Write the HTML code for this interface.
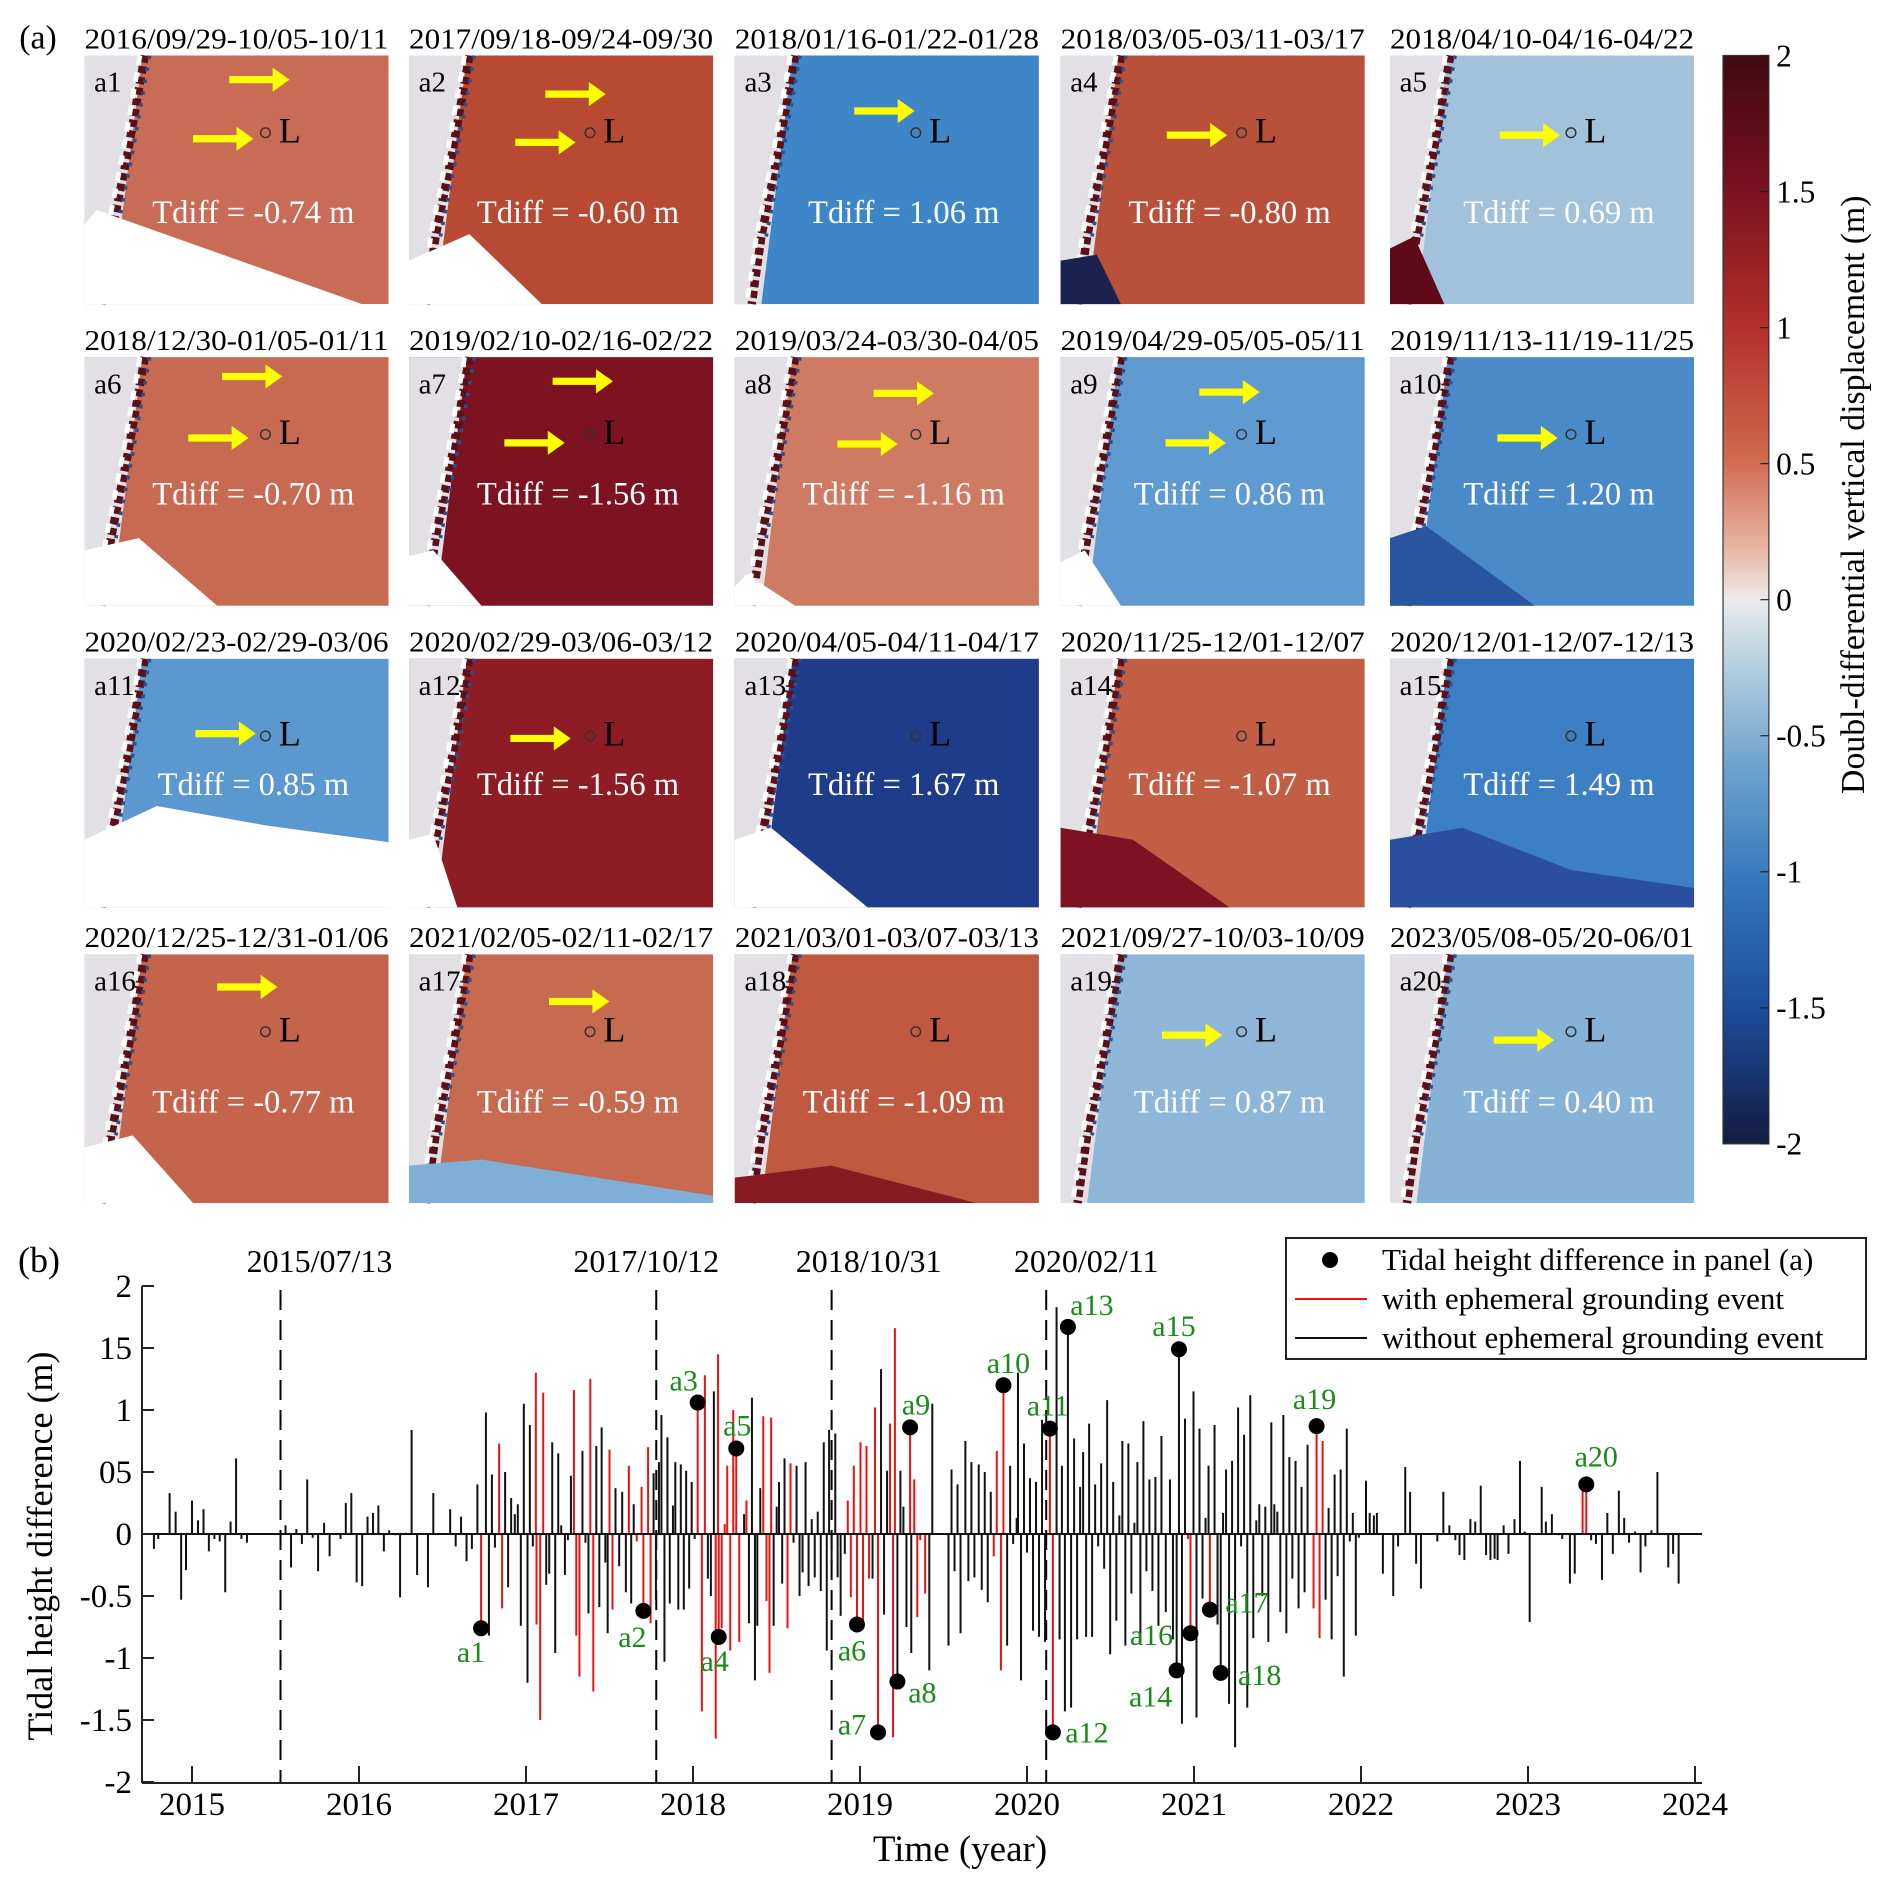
<!DOCTYPE html>
<html><head><meta charset="utf-8">
<style>
html,body{margin:0;padding:0;background:#fff;}
svg, svg text{font-family:"Liberation Serif","Times New Roman",serif !important;}
</style></head>
<body>
<svg id="fig" width="1892" height="1890" viewBox="0 0 1892 1890" xmlns="http://www.w3.org/2000/svg" font-family="Liberation Serif, serif">
<defs>
<linearGradient id="cbar" x1="0" y1="0" x2="0" y2="1">
<stop offset="0" stop-color="#3f0a12"/><stop offset="0.12" stop-color="#7a1020"/><stop offset="0.25" stop-color="#b3302a"/>
<stop offset="0.37" stop-color="#d0694e"/><stop offset="0.45" stop-color="#e7b2a0"/><stop offset="0.5" stop-color="#ecebea"/>
<stop offset="0.56" stop-color="#b5cfe0"/><stop offset="0.65" stop-color="#6fa4cf"/><stop offset="0.76" stop-color="#3477bd"/>
<stop offset="0.88" stop-color="#1c4b9a"/><stop offset="1" stop-color="#141c40"/>
</linearGradient>
</defs>
<g id="panelA" transform="scale(1.2066)"></g>
<g id="panelB"></g>
</svg>
<script>
const NS='http://www.w3.org/2000/svg';
function mk(tag,attrs,parent,txt){const e=document.createElementNS(NS,tag);for(const k in attrs)e.setAttribute(k,attrs[k]);if(tag==='text')e.setAttribute('font-family','Liberation Serif, serif');if(txt!==undefined)e.textContent=txt;parent.appendChild(e);return e;}

/* ---------- Panel (a) ---------- */
const A=document.getElementById('panelA');
const colX=[70,339,609,879,1152], rowY=[46,296,546,791], PW=252, PH=206;
const titles=["2016/09/29-10/05-10/11","2017/09/18-09/24-09/30","2018/01/16-01/22-01/28","2018/03/05-03/11-03/17","2018/04/10-04/16-04/22",
"2018/12/30-01/05-01/11","2019/02/10-02/16-02/22","2019/03/24-03/30-04/05","2019/04/29-05/05-05/11","2019/11/13-11/19-11/25",
"2020/02/23-02/29-03/06","2020/02/29-03/06-03/12","2020/04/05-04/11-04/17","2020/11/25-12/01-12/07","2020/12/01-12/07-12/13",
"2020/12/25-12/31-01/06","2021/02/05-02/11-02/17","2021/03/01-03/07-03/13","2021/09/27-10/03-10/09","2023/05/08-05/20-06/01"];
const tdiffs=["-0.74","-0.60","1.06","-0.80","0.69","-0.70","-1.56","-1.16","0.86","1.20","0.85","-1.56","1.67","-1.07","1.49","-0.77","-0.59","-1.09","0.87","0.40"];
const bases=["#c96c55","#b84a33","#3f86c8","#b9503a","#a2c2dc","#c86a52","#7d1220","#cf7a62","#5f9bd0","#4a8ac8","#5a98cf","#8e1c24","#1f3c8a","#c25e44","#3c7fc4","#c4644a","#c66a50","#c0593f","#8db6d8","#86b2d8"];
const patches=[
 [[0,140],[10,128],[230,206],[0,206],'#fff'],
 [[0,170],[50,148],[110,206],[0,206],'#fff'],
 null,
 [[0,170],[30,165],[50,206],[0,206],'#1a2350'],
 [[0,160],[20,150],[45,206],[0,206],'#5e0a18'],
 [[0,160],[45,150],[110,206],[0,206],'#fff'],
 [[0,165],[20,160],[60,206],[0,206],'#fff'],
 [[0,190],[10,180],[50,206],[0,206],'#fff'],
 [[0,170],[20,160],[50,206],[0,206],'#fff'],
 [[0,150],[30,140],[120,206],[0,206],'#2a55a0'],
 [[0,150],[60,122],[150,138],[252,152],[252,206],[0,206],'#fff'],
 [[0,150],[20,145],[40,206],[0,206],'#fff'],
 [[0,150],[30,140],[110,206],[0,206],'#fff'],
 [[0,140],[60,150],[140,206],[0,206],'#7e1222'],
 [[0,150],[60,140],[150,175],[252,190],[252,206],[0,206],'#2b4fa0'],
 [[0,160],[40,150],[90,206],[0,206],'#fff'],
 [[0,175],[60,170],[252,200],[252,206],[0,206],'#7faed6'],
 [[0,185],[80,175],[200,206],[0,206],'#8a1a22'],
 null,null];
const arrows=[[[120,20],[90,69]],[[113,32],[88,72]],[[99,46]],[[88,66]],[[91,66]],[[114,16],[86,67]],[[119,20],[79,71]],[[115,30],[85,72]],[[115,29],[87,71]],[[89,67]],
[[92,62]],[[84,66]],[],[],[],[[110,27]],[[116,39]],[],[[84,67]],[[86,71]]];
const tdY=[130,130,130,130,130,113,113,113,113,113,104,104,104,104,104,122,122,122,122,122];
mk('text',{x:16,y:40,'font-size':28,},A,'(a)');
for(let i=0;i<20;i++){
  const x0=colX[i%5], y0=rowY[Math.floor(i/5)];
  const g=mk('g',{transform:`translate(${x0},${y0})`},A);
  
  
  const t=mk('text',{x:0,y:-6,'font-size':24,textLength:PW,lengthAdjust:'spacingAndGlyphs'},g,titles[i]);
  
  
  mk('rect',{x:0,y:0,width:PW,height:PH,fill:bases[i]},g);
  mk('polygon',{points:'0,0 48,0 22,206 0,206',fill:'#e2e0e4'},g);
  mk('polyline',{points:'50,0 36,80 22,150 14,206',fill:'none',stroke:'#5a1018','stroke-width':7,'stroke-dasharray':'6 3'},g);
  mk('polyline',{points:'46,0 32,80 18,150 10,206',fill:'none',stroke:'#ffffff','stroke-width':4,'stroke-dasharray':'8 6'},g);
  mk('polyline',{points:'54,0 40,80 26,150',fill:'none',stroke:'#2a4f90','stroke-width':3,'stroke-dasharray':'3 7'},g);
  const p=patches[i];
  if(p){const col=p[p.length-1];mk('polygon',{points:p.slice(0,-1).map(q=>q.join(',')).join(' '),fill:col},g);}
  mk('circle',{cx:150,cy:64,r:4,fill:'none',stroke:'#333','stroke-width':1.2},g);
  const L=mk('text',{x:161,y:72,'font-size':30},g,'L');
  
  
  const lb=mk('text',{x:8,y:30,'font-size':24},g,'a'+(i+1));
  
  
  for(const a of arrows[i]){
    const ar=mk('g',{},g);
    
    
    mk('line',{x1:a[0],y1:a[1],x2:a[0]+40,y2:a[1],stroke:'#ffff00','stroke-width':6},ar);
    mk('polygon',{points:`${a[0]+36},${a[1]-10} ${a[0]+50},${a[1]} ${a[0]+36},${a[1]+10}`,fill:'#ffff00'},ar);
  }
  const td=mk('text',{x:140,y:tdY[i]+9,'font-size':27,fill:'#ffffff','text-anchor':'middle'},g,'Tdiff = '+tdiffs[i]+' m');
  
  
}
/* colorbar */
const cb=mk('g',{},A);


mk('rect',{x:1428,y:46,width:38,height:902,fill:'url(#cbar)',stroke:'#333','stroke-width':1},cb);
const cbTicks=["2","1.5","1","0.5","0","-0.5","-1","-1.5","-2"];
cbTicks.forEach((s,k)=>{const yy=46+k*112.75;
  mk('line',{x1:1459,x2:1466,y1:yy,y2:yy,stroke:'#222','stroke-width':1},cb);
  const tt=mk('text',{x:1472,y:yy+9,'font-size':26},cb,s);
  
  
});
const cbt=mk('text',{x:0,y:0,'font-size':28,'text-anchor':'middle',transform:'translate(1545,410) rotate(-90)'},cb,'Doubl-differential vertical displacement (m)');



/* ---------- Panel (b) data ---------- */
const barDates=[2014.772,2014.798,2014.866,2014.902,2014.935,2014.964,2015.000,2015.036,2015.069,2015.101,2015.134,2015.166,2015.199,2015.231,2015.264,2015.296,2015.329,
2015.560,2015.593,2015.625,2015.658,2015.690,2015.723,2015.755,2015.791,2015.824,2015.889,2015.921,2015.954,2015.986,2016.019,2016.051,2016.084,2016.116,2016.149,2016.181,2016.214,2016.246,2016.279,2016.315,2016.348,2016.413,2016.445,2016.546,2016.579,2016.611,2016.644,2016.676,2016.709,
2016.731,2016.760,2016.778,2016.796,2016.814,2016.839,2016.857,2016.875,2016.893,2016.911,2016.933,2016.951,2016.969,2016.987,2017.009,2017.023,2017.041,2017.059,2017.063,2017.085,2017.103,2017.121,2017.139,2017.157,2017.175,2017.193,2017.211,2017.233,2017.251,2017.269,2017.287,2017.301,2017.320,2017.338,2017.356,2017.374,2017.385,2017.403,2017.421,2017.439,2017.453,2017.475,2017.489,2017.500,2017.518,2017.536,2017.558,2017.576,2017.598,2017.616,2017.630,2017.645,2017.663,2017.692,2017.703,2017.731,2017.746,2017.764,2017.778,2017.796,2017.811,2017.829,2017.847,2017.861,2017.880,2017.894,2017.912,2017.927,2017.945,2017.959,2017.977,2017.992,
2018.010,2018.028,2018.053,2018.071,2018.089,2018.107,2018.125,2018.136,2018.150,2018.154,2018.172,2018.190,2018.205,2018.223,2018.241,2018.259,2018.277,2018.306,2018.320,2018.335,2018.353,2018.371,2018.385,2018.403,2018.421,2018.440,2018.458,2018.468,2018.483,2018.501,2018.515,2018.534,2018.548,2018.566,2018.584,2018.602,2018.620,2018.638,2018.656,2018.674,2018.692,2018.711,2018.729,2018.747,2018.765,2018.783,2018.801,2018.815,2018.830,2018.852,2018.866,2018.884,2018.909,2018.927,2018.945,2018.963,2018.982,
2019.003,2019.018,2019.039,2019.054,2019.075,2019.090,2019.108,2019.126,2019.144,2019.162,2019.180,2019.198,2019.209,2019.224,2019.242,2019.260,2019.278,2019.300,2019.307,2019.325,2019.343,2019.361,2019.390,2019.415,2019.433,
2019.530,2019.548,2019.566,2019.584,2019.602,2019.631,2019.649,2019.667,2019.685,2019.711,2019.729,2019.747,2019.765,2019.783,2019.801,2019.819,2019.844,2019.859,2019.881,2019.899,2019.917,2019.938,2019.946,2019.964,2019.982,2020.000,2020.018,2020.036,2020.054,2020.072,2020.090,2020.108,
2020.137,2020.155,2020.177,2020.195,2020.209,2020.227,2020.245,2020.264,2020.282,2020.300,2020.318,2020.336,2020.354,2020.372,2020.390,2020.408,2020.426,2020.444,2020.462,2020.480,2020.498,2020.516,2020.535,2020.553,2020.571,2020.589,2020.607,2020.625,2020.643,2020.661,2020.679,2020.697,2020.715,2020.733,2020.751,2020.769,2020.787,2020.805,2020.831,2020.856,2020.874,2020.896,2020.910,2020.928,2020.946,2020.964,2020.979,2020.997,
2021.015,2021.033,2021.051,2021.069,2021.087,2021.095,2021.123,2021.141,2021.160,2021.174,2021.192,2021.210,2021.228,2021.246,2021.264,2021.282,2021.300,2021.319,2021.337,2021.355,2021.373,2021.391,2021.409,2021.427,2021.445,2021.463,2021.481,2021.499,2021.517,2021.535,2021.553,2021.571,2021.589,2021.608,2021.626,2021.644,2021.662,2021.680,2021.716,2021.734,2021.752,2021.770,2021.788,2021.806,2021.824,2021.842,2021.860,2021.878,2021.897,2021.915,2021.933,2021.951,2021.969,2021.987,
2022.030,2022.052,2022.077,2022.095,2022.131,2022.193,2022.222,2022.265,2022.294,2022.330,2022.359,2022.457,2022.493,2022.529,2022.565,2022.590,2022.619,2022.655,2022.684,2022.717,2022.749,2022.775,2022.800,2022.818,2022.854,2022.883,2022.919,2022.952,2022.980,
2023.010,2023.082,2023.107,2023.143,2023.183,2023.205,2023.251,2023.280,2023.327,2023.349,2023.378,2023.407,2023.443,2023.475,2023.508,2023.544,2023.576,2023.605,2023.641,2023.674,2023.703,2023.739,2023.775,2023.840,2023.869,2023.902];
const barValues=[-0.12,-0.04,0.33,0.18,-0.53,-0.29,0.27,0.11,0.20,-0.14,-0.04,-0.06,-0.47,0.10,0.61,-0.04,-0.07,
0.07,-0.27,0.04,-0.08,0.44,-0.03,-0.30,0.09,-0.18,-0.04,0.25,0.33,-0.39,-0.42,0.14,0.17,0.23,-0.14,0.03,-0.01,-0.51,0.01,0.84,-0.33,-0.43,0.33,0.20,-0.10,0.14,-0.22,-0.12,0.40,
-0.76,0.98,-0.82,0.48,-0.11,0.73,-0.60,0.50,-0.43,0.29,0.16,0.24,-0.74,1.05,-1.20,0.88,-0.10,1.30,-0.73,-1.50,1.14,-0.41,-0.32,0.74,-0.96,0.65,0.07,-0.33,-0.05,0.47,1.16,-0.82,-1.15,0.67,-0.07,-0.64,1.25,-1.27,0.71,-0.59,0.86,-0.23,-0.80,0.68,-0.61,0.37,-0.26,0.34,-0.47,0.55,-0.56,0.24,-0.06,0.38,-0.62,0.70,-0.72,0.49,-0.53,0.58,0.96,-1.03,0.78,-0.56,0.23,0.58,-0.61,0.56,-0.61,0.51,-0.44,0.42,
-0.04,1.06,-1.43,1.28,-0.36,-0.50,1.15,-1.65,1.45,-0.83,-0.76,0.08,0.55,-0.94,1.00,0.69,-0.87,0.16,0.27,-0.72,1.10,-1.18,-0.74,0.37,0.95,-0.54,-1.12,0.94,-0.74,0.22,0.42,-0.40,0.61,-0.76,0.57,-0.07,0.55,-0.50,-0.31,0.58,-0.42,0.12,-0.35,0.18,-0.46,0.74,-0.94,0.84,-0.25,0.81,-0.35,-0.66,-0.16,0.27,-0.51,0.55,-0.73,
0.74,-0.75,0.71,-0.36,-0.36,1.02,-1.60,1.33,-0.65,0.51,0.89,-1.64,1.66,-1.19,0.51,0.22,-0.75,0.86,-0.96,0.44,-0.67,-0.05,-0.48,-1.10,1.05,
-0.90,0.52,-0.30,0.40,-0.80,0.75,-0.38,0.58,-0.35,0.56,-0.45,0.50,-0.55,0.34,-0.18,0.67,-1.10,1.20,-0.90,0.55,-0.08,0.13,1.30,-1.18,0.73,-0.15,0.45,-0.78,0.42,-0.83,0.92,-0.87,
0.85,-1.60,1.83,-0.85,0.55,-1.43,1.67,-1.40,0.77,-0.85,0.38,0.66,-0.83,0.89,-0.83,0.40,-0.10,0.57,-0.28,1.08,-0.97,0.42,-0.70,0.15,0.75,-0.90,0.73,-0.48,0.09,0.58,-0.88,0.91,-0.30,0.44,-0.46,0.46,-0.74,0.79,-0.63,0.44,-0.85,-1.10,1.49,-1.53,0.93,-0.04,-0.80,1.15,
-1.48,0.85,-0.52,0.13,0.55,-0.61,0.88,-0.73,-1.12,0.17,0.52,-1.37,0.59,-1.72,1.02,-0.10,0.80,-1.40,1.12,-0.84,0.11,0.24,-0.50,0.22,-0.87,0.90,0.24,0.18,-0.63,0.96,-0.80,0.62,-0.36,0.59,-0.60,0.38,-0.47,0.72,-0.60,0.87,-0.84,0.75,-0.53,0.21,-0.85,0.48,-0.34,0.52,-1.15,0.85,-0.06,0.17,-0.82,-0.03,
0.43,0.17,0.15,0.17,-0.32,-0.50,-0.10,0.54,0.34,-0.24,-0.44,-0.06,0.34,0.07,-0.05,-0.17,-0.21,0.12,0.10,0.39,-0.17,-0.21,-0.20,-0.21,0.07,-0.16,0.12,0.59,0.02,
-0.71,0.38,0.10,0.16,-0.01,-0.04,-0.40,-0.32,0.37,0.40,-0.05,-0.08,-0.37,0.17,-0.16,0.35,0.13,-0.07,0.02,-0.31,-0.10,0.03,0.50,-0.27,-0.16,-0.40];
/* dates of bars with an ephemeral grounding event (drawn red) */
const groundingDates=[2016.731,2016.839,2016.857,2017.059,2017.063,2017.085,2017.103,2017.287,2017.301,2017.320,2017.385,2017.403,2017.500,2017.518,2017.616,2017.663,2017.692,2017.703,2017.731,2017.746,
2018.028,2018.053,2018.071,2018.136,2018.150,2018.154,2018.172,2018.190,2018.205,2018.223,2018.241,2018.259,2018.277,2018.320,2018.421,2018.440,2018.458,2018.468,2018.566,2018.584,
2018.927,2018.945,2018.963,2018.982,2019.003,2019.018,2019.039,2019.054,2019.090,2019.108,2019.180,2019.198,2019.209,2019.300,2019.325,2019.343,2019.361,2019.390,
2019.801,2019.819,2019.844,2019.859,2020.137,2020.155,2020.964,2020.979,2021.095,2021.716,2021.734,2021.752,2021.770,2023.327,2023.349];
const markerLabels=["a1","a2","a3","a4","a5","a6","a7","a8","a9","a10","a11","a12","a13","a14","a15","a16","a17","a18","a19","a20"];
const markerDates=[2016.731,2017.703,2018.028,2018.154,2018.259,2018.982,2019.108,2019.224,2019.300,2019.859,2020.137,2020.155,2020.245,2020.896,2020.910,2020.979,2021.095,2021.160,2021.734,2023.349];
const markerValues=[-0.76,-0.62,1.06,-0.83,0.69,-0.73,-1.60,-1.19,0.86,1.20,0.85,-1.60,1.67,-1.10,1.49,-0.80,-0.61,-1.12,0.87,0.40];
const eventDates=[2015.53,2017.78,2018.83,2020.115];
const eventLabels=["2015/07/13","2017/10/12","2018/10/31","2020/02/11"];
const yTickValues=[2,1.5,1,0.5,0,-0.5,-1,-1.5,-2];
const yTickLabels=["2","15","1","05","0","-0.5","-1","-1.5","-2"];
const xTickYears=[2015,2016,2017,2018,2019,2020,2021,2022,2023,2024];
/* layout offsets */
const labelOffsets=[[-10,24],[-11,26],[-14,-22],[-4,24],[1,-23],[-5,26],[-26,-8],[25,11],[6,-23],[5,-22],[-2,-23],[34,0],[24,-22],[-26,26],[-5,-23],[-39,2],[37,-7],[39,2],[-2,-27],[10,-28]];
const eventLabelShift=[39,-10,37,40];

const B=document.getElementById('panelB');
const X0=142, X1=1702, YT=1286, YB=1783;
function xs(yr){return 192+(yr-2015)*167;}
function ys(v){return 1534-v*124;}

mk('text',{x:18,y:1272,'font-size':36,},B,'(b)');
eventDates.forEach((d,i)=>{
  const ln=mk('line',{x1:xs(d),x2:xs(d),y1:1290,y2:YB,stroke:'#000','stroke-width':2,'stroke-dasharray':'20 10'},B);
  
  
  const t=mk('text',{x:xs(d)+eventLabelShift[i],y:1272,'font-size':32,'text-anchor':'middle'},B,eventLabels[i]);
  
  
});
const barsG=mk('g',{},B);


barDates.forEach((d,i)=>{
  const red=groundingDates.indexOf(d)>=0;
  const b=mk('line',{x1:xs(d),x2:xs(d),y1:ys(0),y2:ys(barValues[i]),stroke:red?'#ee1111':'#111','stroke-width':2},barsG);
  
  
});
mk('line',{x1:X0,x2:X1,y1:ys(0),y2:ys(0),stroke:'#111','stroke-width':2,},B);
mk('line',{x1:X0,x2:X0,y1:YT,y2:YB,stroke:'#222','stroke-width':2,},B);
mk('line',{x1:X0,x2:X1,y1:YB,y2:YB,stroke:'#222','stroke-width':2,},B);
yTickValues.forEach((v,i)=>{
  mk('line',{x1:X0,x2:X0+12,y1:ys(v),y2:ys(v),stroke:'#222','stroke-width':2},B);
  const t=mk('text',{x:X0-10,y:ys(v)+11,'font-size':33,'text-anchor':'end'},B,yTickLabels[i]);
  
  
});
xTickYears.forEach(yv=>{
  mk('line',{x1:xs(yv),x2:xs(yv),y1:YB,y2:YB-17,stroke:'#222','stroke-width':2},B);
  const t=mk('text',{x:xs(yv),y:1815,'font-size':33,'text-anchor':'middle'},B,String(yv));
  
  
});
mk('text',{x:0,y:0,'font-size':36,'text-anchor':'middle',transform:'translate(52,1546) rotate(-90)',},B,'Tidal height difference (m)');
mk('text',{x:960,y:1861,'font-size':37,'text-anchor':'middle',},B,'Time (year)');
markerDates.forEach((d,i)=>{
  const c=mk('circle',{cx:xs(d),cy:ys(markerValues[i]),r:8,fill:'#000'},B);
  
  
  const o=labelOffsets[i];
  const t=mk('text',{x:xs(d)+o[0],y:ys(markerValues[i])+o[1]+10,'font-size':30,fill:'#1a8a1a','text-anchor':'middle'},B,markerLabels[i]);
  
  
});
const lg=mk('g',{},B);


mk('rect',{x:1286,y:1238,width:580,height:121,fill:'#fff',stroke:'#222','stroke-width':2},lg);
mk('circle',{cx:1330,cy:1260,r:8,fill:'#000'},lg);
mk('line',{x1:1295,x2:1367,y1:1299,y2:1299,stroke:'#ee1111','stroke-width':2},lg);
mk('line',{x1:1295,x2:1367,y1:1338,y2:1338,stroke:'#111','stroke-width':2},lg);
const legTexts=["Tidal height difference in panel (a)","with ephemeral grounding event","without ephemeral grounding event"];
legTexts.forEach((s,i)=>{
  const t=mk('text',{x:1382,y:1270+i*39,'font-size':31},lg,s);
  
  
});
</script>
</body></html>
